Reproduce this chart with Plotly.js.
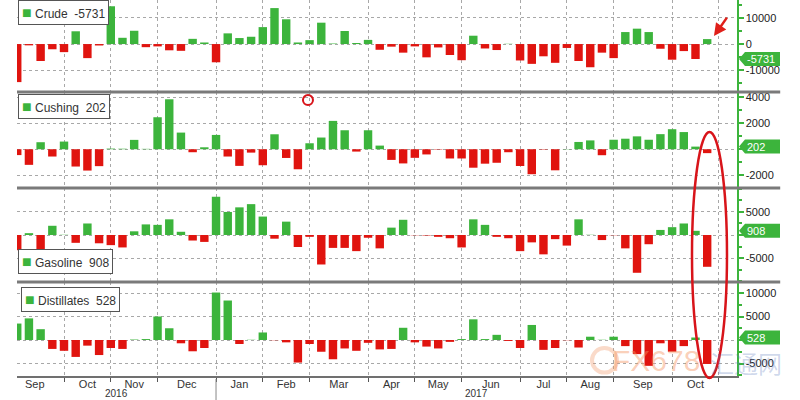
<!DOCTYPE html>
<html>
<head>
<meta charset="utf-8">
<script src="https://cdn.plot.ly/plotly-3.0.1.min.js"></script>
<style>html,body{margin:0;padding:0;background:#fff;}#chart{width:800px;height:400px;}</style>
</head>
<body>
<div id="chart"></div>
<script>
// ---- data (weekly changes, thousand barrels) ----
const firstWeek = '2016-09-09';
const crude = [-14600,-500,-6500,-2000,-3100,4900,-5400,-550,14500,2400,5100,-1200,-900,-2400,-2600,2000,600,-7000,4100,2300,2800,6500,13800,9500,600,1500,8200,200,5000,400,1600,-2200,-1000,-3300,-900,-5100,-1300,-4200,-6200,3200,-1700,-2300,100,-6300,-7600,-4700,-7200,-1500,-6500,-8900,-3300,-5400,4600,5900,4600,-1800,-6000,-2700,-5731,1900];
const cushing = [-450,-1200,540,-560,590,-1330,-1640,-1300,50,40,720,30,2460,3840,1280,-230,150,1100,-560,-1280,-260,-1230,1150,-670,-1540,460,900,2180,1460,-180,1460,280,-820,-1090,-660,-400,-30,-710,-710,-1420,-1110,-1040,-230,-1290,-1920,-30,-1620,20,560,680,-460,730,810,990,730,1160,1540,1320,202,-300];
const gasoline = [-3300,400,-3100,2000,50,-1700,2500,-1800,-2200,-2700,800,2300,2200,3400,700,-1200,-1500,8300,5000,6000,6700,4000,-800,2900,-2600,-400,-6400,-2800,-2800,-3500,-600,-2900,1600,3300,-50,-100,-400,-700,-2700,3400,2200,-400,-700,-3500,-1600,-4200,-900,-2300,3400,50,-1100,-50,-2900,-8200,-2000,1100,1700,2500,908,-6900];
const distillates = [3500,4600,2300,-1900,-2300,-3600,-1200,-3200,-1700,-1900,100,200,5000,2500,-700,-2400,-1700,10100,8400,-850,50,1600,-50,-500,-4800,-850,-2500,-4100,-1800,-2300,-600,-2000,-1900,2600,-500,-1400,-1800,-400,200,4400,200,1100,-200,-1700,3200,-2100,-1700,-50,-1600,700,50,700,-1300,-3000,-5500,-700,-2500,-1300,528,-5100];

const seriesNames = ['Crude', 'Cushing', 'Gasoline', 'Distillates'];
const latestValues = [-5731, 202, 908, 528];
const monthNames = ['Jan','Feb','Mar','Apr','May','Jun','Jul','Aug','Sep','Oct','Nov','Dec'];

const crudeTicks = [10000, 0, -10000];
const crudeTickText = ['10000', '0', '-10000'];
const cushingTicks = [4000, 2000, 0, -2000];
const cushingTickText = ['4000', '2000', '', '-2000'];
const gasolineTicks = [5000, 0, -5000];
const gasolineTickText = ['5000', '', '-5000'];
const distTicks = [10000, 5000, 0, -5000];
const distTickText = ['10000', '5000', '', '-5000'];

// ---- styles ----
const GREEN = '#3cb43c';
const RED = '#e0140f';
const FONT = 'Liberation Sans, Arial, sans-serif';
const N = crude.length;
const xRange = [-0.02, 61.55];

function weekDate(k) {
  const t = new Date(firstWeek + 'T00:00:00Z');
  t.setUTCDate(t.getUTCDate() + 7 * k);
  return t;
}
function monthKey(k) { const d = weekDate(k); return d.getUTCFullYear() * 12 + d.getUTCMonth(); }

// month boundaries (first week of each month, in week index units)
let k0 = 0;
while (monthKey(k0 - 1) === monthKey(0)) k0--;
const bounds = [k0];
for (let k = k0 + 1; k <= Math.floor(xRange[1]); k++) {
  if (monthKey(k) !== monthKey(k - 1)) bounds.push(k);
}
const labelPos = [], labelText = [];
for (let j = 0; j < bounds.length - 1; j++) {
  labelPos.push((bounds[j] + bounds[j + 1]) / 2);
  labelText.push(monthNames[weekDate(bounds[j]).getUTCMonth()]);
}
const gridBounds = bounds.filter(b => b >= xRange[0]);
// year labels
const yearStarts = bounds.filter(b => weekDate(b).getUTCMonth() === 0);
const yearAnn = [];
const yearEdges = [xRange[0]].concat(yearStarts).concat([xRange[1]]);
for (let j = 0; j < yearEdges.length - 1; j++) {
  const mid = (Math.max(yearEdges[j], 0) + yearEdges[j + 1]) / 2;
  const yr = weekDate(Math.max(0, Math.ceil(yearEdges[j]))).getUTCFullYear();
  yearAnn.push({x: mid, xref: 'x', y: -0.0638, yref: 'paper', yanchor: 'bottom', borderpad: 0, text: String(yr), showarrow: false, font: {family: FONT, size: 10, color: '#333'}});
}

const xs = crude.map((_, i) => i);
const colorOf = arr => arr.map(v => v >= 0 ? GREEN : RED);

function barTrace(vals, yax) {
  return {type: 'bar', x: xs, y: vals, yaxis: yax, xaxis: 'x', width: 0.72,
    marker: {color: colorOf(vals), line: {width: 0}}, hoverinfo: 'skip'};
}
const traces = [
  barTrace(crude, 'y'), barTrace(cushing, 'y2'), barTrace(gasoline, 'y3'), barTrace(distillates, 'y4'),
  {type: 'scatter', mode: 'markers', x: labelPos, y: labelPos.map(() => 0), xaxis: 'x2', yaxis: 'y4', marker: {opacity: 0}, hoverinfo: 'skip'}
];

function yAxis(domain, range, tv, tt, minorDtick) {
  return {domain: domain, range: range, side: 'right', anchor: 'x', tickmode: 'array', tickvals: tv, ticktext: tt,
    ticks: 'outside', ticklen: 5, tickwidth: 2, tickcolor: GREEN, showline: true, linecolor: GREEN, linewidth: 1.5,
    showgrid: true, gridcolor: '#a8a8a8', griddash: 'dot', gridwidth: 1, zeroline: false,
    tickfont: {family: FONT, size: 11, color: '#222'},
    minor: {ticks: 'outside', ticklen: 3, tickcolor: GREEN, dtick: minorDtick, showgrid: false}, fixedrange: true};
}

const domains = [[0.7553, 1], [0.5, 0.7553], [0.25, 0.5], [0, 0.25]];
const yrefs = ['y', 'y2', 'y3', 'y4'];

const shapes = [];
// panel separators
[0.7553, 0.5, 0.25].forEach(p => shapes.push({type: 'line', xref: 'paper', yref: 'paper', x0: 0, x1: 1.06, y0: p, y1: p, line: {color: '#7a7a7a', width: 3}}));
// year separator below axis
yearStarts.forEach(b => shapes.push({type: 'line', xref: 'x', yref: 'paper', x0: b, x1: b, y0: -0.008, y1: -0.066, line: {color: '#888', width: 1}}));
// value tags
const annotations = [];
latestValues.forEach((v, i) => {
  shapes.push({type: 'path', xref: 'paper', yref: yrefs[i], xsizemode: 'pixel', ysizemode: 'pixel', xanchor: 1, yanchor: v,
    path: 'M 2,0 L 8,7 L 43,7 L 43,-7 L 8,-7 Z', fillcolor: GREEN, line: {width: 0}, layer: 'above'});
  annotations.push({x: 1, xref: 'paper', y: v, yref: yrefs[i], xanchor: 'left', yanchor: 'middle', xshift: 8,
    text: String(v), showarrow: false, font: {family: FONT, size: 11, color: '#ffffff'}});
});
// legend boxes
const legendPos = [[0.0014, 1.0], [0.0014, 0.75], [0.0014, 0.3378], [0.0056, 0.2367]];
seriesNames.forEach((n, i) => {
  annotations.push({x: legendPos[i][0], y: legendPos[i][1], xref: 'paper', yref: 'paper', xanchor: 'left', yanchor: 'top',
    text: '<span style="color:' + GREEN + ';font-size:16px">■</span> ' + n + '&nbsp; ' + latestValues[i], showarrow: false,
    bgcolor: '#ffffff', bordercolor: '#555', borderwidth: 1, borderpad: 3,
    font: {family: FONT, size: 12, color: '#333'}});
});
// markup in red
shapes.push({type: 'circle', xref: 'paper', yref: 'paper', x0: 0.3972, x1: 0.4111, y0: 0.7207, y1: 0.7473, line: {color: '#d8141a', width: 2}});
shapes.push({type: 'circle', xref: 'paper', yref: 'paper', x0: 0.9375, x1: 0.9861, y0: -0.0053, y1: 0.649, line: {color: '#d8141a', width: 2.5}});
annotations.push({x: 0.968, y: 0.904, xref: 'paper', yref: 'paper', ax: 14, ay: -20, text: '', showarrow: true,
  arrowhead: 2, arrowsize: 1, arrowwidth: 2.5, arrowcolor: '#e0201a'});
// watermark
shapes.push({type: 'circle', xref: 'paper', yref: 'paper', x0: 0.7986, x1: 0.8333, y0: 0.009, y1: 0.0745, line: {color: 'rgba(240,150,100,0.35)', width: 4}});
annotations.push({x: 0.8875, y: 0.04, xref: 'paper', yref: 'paper', xanchor: 'center', yanchor: 'middle', text: 'FX678', showarrow: false,
  font: {family: FONT, size: 30, color: 'rgba(245,150,100,0.45)'}});
annotations.push({x: 1.012, y: 0.035, xref: 'paper', yref: 'paper', xanchor: 'center', yanchor: 'middle', text: '汇通网', showarrow: false,
  font: {family: 'Noto Sans CJK SC', size: 24, color: 'rgba(90,120,190,0.3)'}});
yearAnn.forEach(a => annotations.push(a));

const layout = {
  width: 800, height: 400, margin: {l: 17, r: 63, t: 0, b: 24}, paper_bgcolor: '#fff', plot_bgcolor: '#fff',
  showlegend: false, font: {family: FONT},
  xaxis: {range: xRange, anchor: 'y4', tickmode: 'array', tickvals: gridBounds, showticklabels: false,
    ticks: 'outside', ticklen: 4, tickcolor: '#555', showgrid: true, gridcolor: '#a8a8a8', griddash: 'dot', gridwidth: 1,
    zeroline: false, showline: true, linecolor: '#707070', linewidth: 2, fixedrange: true},
  xaxis2: {range: xRange, overlaying: 'x', anchor: 'y4', side: 'bottom', tickmode: 'array', tickvals: labelPos, ticktext: labelText,
    ticks: '', showgrid: false, zeroline: false, showline: false, tickfont: {family: FONT, size: 11, color: '#333'}, fixedrange: true},
  yaxis: yAxis(domains[0], [-18400, 16900], crudeTicks, crudeTickText, 5000),
  yaxis2: yAxis(domains[1], [-2980, 4400], cushingTicks, cushingTickText, 1000),
  yaxis3: yAxis(domains[2], [-10200, 10200], gasolineTicks, gasolineTickText, 2500),
  yaxis4: yAxis(domains[3], [-7660, 12340], distTicks, distTickText, 2500),
  shapes: shapes, annotations: annotations
};
Plotly.newPlot('chart', traces, layout, {displayModeBar: false, staticPlot: true});
</script>
</body>
</html>
